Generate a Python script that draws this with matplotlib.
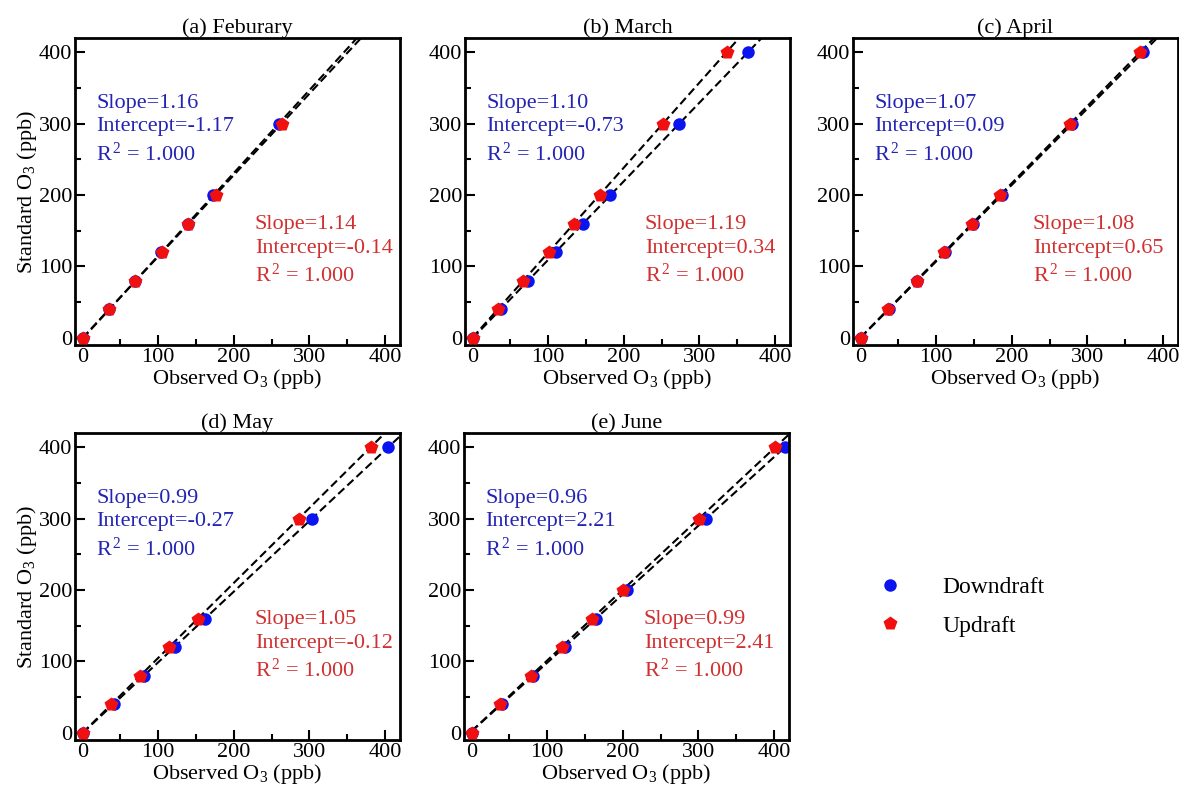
import numpy as np
import matplotlib
matplotlib.use('Agg')
import matplotlib.pyplot as plt
from matplotlib.lines import Line2D

plt.rcParams['font.family'] = ['Liberation Serif', 'DejaVu Serif']
plt.rcParams['mathtext.fontset'] = 'custom'
plt.rcParams['mathtext.rm'] = 'Liberation Serif'
plt.rcParams['mathtext.it'] = 'Liberation Serif:italic'

# panel titles
titles = ['(a) Feburary', '(b) March', '(c) April', '(d) May', '(e) June']

# standard O3 levels (y) per panel
std_a = [0, 40, 80, 120, 160, 200, 300]
std_b = [0, 40, 80, 120, 160, 200, 300, 400]
std_c = [0, 40, 80, 120, 160, 200, 300, 400]
std_d = [0, 40, 80, 120, 160, 300, 400]
std_e = [0, 40, 80, 120, 160, 200, 300, 400]

# observed O3, downdraft inlet
down_a = [0, 35, 70, 104, 139, 173, 260]
down_b = [0, 37, 73, 110, 146, 182, 273, 364]
down_c = [0, 37, 75, 112, 149, 187, 280, 374]
down_d = [0, 41, 81, 122, 162, 303, 404]
down_e = [0, 40, 81, 123, 164, 206, 310, 414]

# observed O3, updraft inlet
up_a = [0, 35, 70, 105, 140, 176, 264]
up_b = [0, 33, 67, 101, 134, 168, 252, 336]
up_c = [0, 36, 74, 111, 148, 185, 277, 370]
up_d = [0, 38, 76, 114, 153, 286, 381]
up_e = [0, 38, 78, 119, 159, 200, 301, 402]

# fit results
slope_down = [1.16, 1.10, 1.07, 0.99, 0.96]
icpt_down = [-1.17, -0.73, 0.09, -0.27, 2.21]
slope_up = [1.14, 1.19, 1.08, 1.05, 0.99]
icpt_up = [-0.14, 0.34, 0.65, -0.12, 2.41]
r2_down = [1.000, 1.000, 1.000, 1.000, 1.000]
r2_up = [1.000, 1.000, 1.000, 1.000, 1.000]

std_all = [std_a, std_b, std_c, std_d, std_e]
down_all = [down_a, down_b, down_c, down_d, down_e]
up_all = [up_a, up_b, up_c, up_d, up_e]

blue_pt = '#0a14f0'
red_pt = '#f01010'
blue_txt = '#2424b4'
red_txt = '#d03030'

fig = plt.figure(figsize=(11.79, 7.90), dpi=100)

# axes boxes [left, bottom, width, height]
w, h = 0.2757, 0.3886
boxes = [[0.0636, 0.5633, w, h], [0.3944, 0.5633, w, h], [0.7235, 0.5633, w, h],
         [0.0636, 0.0633, w, h], [0.3936, 0.0633, w, h]]

xfit = np.array([0, 420])
for i in range(5):
	ax = fig.add_axes(boxes[i])
	# fitted lines
	ax.plot(xfit, slope_down[i] * xfit + icpt_down[i], color='k', lw=1.5, dashes=(4, 2), zorder=1)
	ax.plot(xfit, slope_up[i] * xfit + icpt_up[i], color='k', lw=1.5, dashes=(4, 2), zorder=1)
	ax.plot(down_all[i], std_all[i], 'o', color=blue_pt, ms=9, mec='none', zorder=2)
	ax.plot(up_all[i], std_all[i], 'p', color=red_pt, ms=10, mec='none', zorder=3)

	ax.set_xlim(-10, 420)
	ax.set_ylim(-10, 420)
	ax.set_xticks([0, 100, 200, 300, 400])
	ax.set_yticks([0, 100, 200, 300, 400])
	ax.set_xticks(np.arange(50, 400, 100), minor=True)
	ax.set_yticks(np.arange(50, 400, 100), minor=True)
	ax.tick_params(which='both', direction='in', top=False, right=False, labelsize=16, pad=2)
	ax.tick_params(which='major', length=7, width=1.5)
	ax.tick_params(which='minor', length=4.5, width=1.5)
	for sp in ax.spines.values():
		sp.set_linewidth(2)

	ax.set_title(titles[i], fontsize=16, pad=3)
	ax.set_xlabel('Observed O$_3$ (ppb)', fontsize=16, labelpad=0)
	if i == 0 or i == 3:
		ax.set_ylabel('Standard O$_3$ (ppb)', fontsize=16, labelpad=0)

	ax.text(0.065, 0.818, 'Slope=%.2f\nIntercept=%.2f\nR$^{\\,2}$ = %.3f' % (slope_down[i], icpt_down[i], r2_down[i]),
		transform=ax.transAxes, color=blue_txt, fontsize=16, va='top', ha='left', linespacing=1.32)
	ax.text(0.553, 0.423, 'Slope=%.2f\nIntercept=%.2f\nR$^{\\,2}$ = %.3f' % (slope_up[i], icpt_up[i], r2_up[i]),
		transform=ax.transAxes, color=red_txt, fontsize=16, va='top', ha='left', linespacing=1.32)

# legend in the empty slot
handles = [Line2D([], [], ls='none', marker='o', color=blue_pt, ms=9, mec='none'),
           Line2D([], [], ls='none', marker='p', color=red_pt, ms=10, mec='none')]
fig.legend(handles, ['Downdraft', 'Updraft'], loc='center left', bbox_to_anchor=(0.717, 0.232),
	frameon=False, fontsize=17, handletextpad=1.2, labelspacing=0.7, numpoints=1)

plt.savefig('out.png', dpi=100)
